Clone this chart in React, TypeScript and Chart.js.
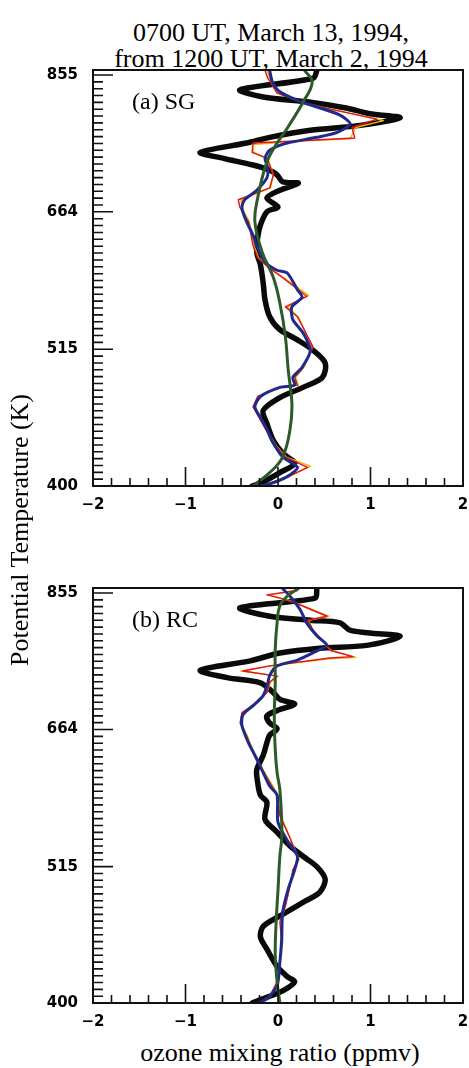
import React, { useEffect, useRef } from 'react';
import { Chart, registerables } from 'chart.js';

Chart.register(...registerables);

// ---- axis ticks ----
const thetaTicks = [400, 515, 664, 855];
const thetaMin = 400;
const thetaMax = 863;
const xMin = -2;
const xMax = 2;

// ---- panel (a) SG ----
const sgBlackTheta = [862, 850, 832, 821, 813, 804, 796, 790, 779, 772, 762, 754, 741, 733, 724, 717, 711, 702, 700, 691, 681, 670, 664, 648, 633, 616, 602, 582, 564, 547, 534, 524, 514, 502, 489, 480, 471, 460, 449, 435, 425, 417, 410, 403, 400];
const sgBlackX = [0.42, 0.38, -0.41, -0.16, 0.35, 0.75, 0.99, 1.32, 0.89, 0.35, -0.09, -0.34, -0.84, -0.59, -0.27, -0.09, -0.01, 0.05, 0.22, 0.02, -0.12, 0.0, -0.12, -0.19, -0.22, -0.23, -0.19, -0.16, -0.14, -0.09, 0.02, 0.21, 0.38, 0.51, 0.48, 0.27, 0.02, -0.16, -0.12, -0.05, 0.05, 0.18, 0.02, -0.16, -0.28];

const sgRedTheta = [862, 850, 827, 812, 804, 788, 776, 761, 758, 754, 741, 733, 711, 694, 679, 669, 652, 624, 610, 598, 588, 568, 557, 547, 517, 498, 489, 482, 480, 472, 463, 452, 441, 431, 422, 414, 407, 401, 400];
const sgRedX = [-0.14, -0.11, -0.01, 0.27, 0.53, 1.07, 0.80, 0.83, 0.35, -0.27, -0.28, -0.12, -0.05, -0.09, -0.43, -0.41, -0.32, -0.27, -0.22, -0.09, 0.05, 0.31, 0.08, 0.21, 0.38, 0.27, 0.18, 0.21, 0.02, -0.22, -0.27, -0.19, -0.11, -0.03, 0.08, 0.32, 0.11, -0.14, -0.27];

const sgYellowTheta = [862, 850, 827, 812, 803, 786, 776, 760, 757, 752, 741, 733, 711, 694, 679, 669, 652, 624, 610, 598, 588, 569, 557, 547, 517, 498, 489, 482, 480, 472, 463, 452, 441, 431, 422, 415, 407, 401, 400];
const sgYellowX = [-0.12, -0.09, 0.0, 0.28, 0.56, 1.14, 0.84, 0.78, 0.30, -0.28, -0.26, -0.11, -0.05, -0.08, -0.40, -0.39, -0.31, -0.26, -0.21, -0.08, 0.06, 0.33, 0.10, 0.22, 0.37, 0.28, 0.19, 0.22, 0.03, -0.21, -0.26, -0.18, -0.10, -0.02, 0.09, 0.35, 0.12, -0.13, -0.26];

const sgBlueTheta = [862, 844, 829, 816, 806, 794, 781, 769, 762, 754, 744, 733, 720, 707, 691, 679, 669, 652, 636, 621, 605, 596, 593, 575, 567, 557, 544, 531, 514, 498, 489, 482, 480, 472, 463, 454, 444, 433, 422, 414, 407, 401, 400];
const sgBlueX = [-0.09, -0.06, 0.02, 0.21, 0.42, 0.67, 0.78, 0.64, 0.42, 0.10, -0.09, -0.14, -0.11, -0.12, -0.23, -0.36, -0.39, -0.34, -0.27, -0.22, -0.14, -0.01, 0.10, 0.21, 0.26, 0.15, 0.16, 0.27, 0.35, 0.26, 0.16, 0.18, 0.02, -0.19, -0.25, -0.19, -0.12, -0.05, 0.05, 0.21, 0.10, -0.12, -0.27];

const sgGreenTheta = [862, 844, 813, 775, 754, 728, 681, 652, 616, 588, 561, 527, 496, 466, 444, 422, 410, 400];
const sgGreenX = [0.29, 0.37, 0.27, 0.10, -0.01, -0.12, -0.22, -0.25, -0.17, -0.05, 0.02, 0.08, 0.11, 0.15, 0.13, 0.05, -0.09, -0.27];

// ---- panel (b) RC ----
const rcBlackTheta = [862, 847, 832, 819, 813, 809, 798, 794, 789, 776, 772, 765, 754, 741, 731, 724, 711, 702, 696, 689, 681, 672, 665, 657, 648, 633, 616, 602, 588, 580, 562, 549, 535, 525, 515, 503, 491, 482, 470, 461, 452, 442, 428, 420, 416, 409, 405, 400];
const rcBlackX = [0.42, 0.40, -0.41, -0.09, 0.35, 0.67, 0.78, 0.99, 1.32, 0.96, 0.45, 0.02, -0.30, -0.84, -0.55, -0.19, -0.05, 0.02, 0.18, 0.02, -0.12, -0.09, -0.01, -0.09, -0.12, -0.16, -0.23, -0.22, -0.19, -0.12, -0.14, -0.01, 0.13, 0.27, 0.42, 0.51, 0.45, 0.27, 0.02, -0.16, -0.19, -0.12, -0.01, 0.10, 0.18, 0.05, -0.09, -0.28];

const rcRedTheta = [859, 852, 847, 840, 832, 819, 813, 798, 776, 769, 760, 758, 747, 740, 733, 725, 711, 698, 685, 672, 656, 636, 616, 602, 588, 566, 543, 522, 512, 497, 479, 465, 448, 431, 416, 405, 400];
const rcRedX = [0.21, -0.12, 0.02, 0.18, 0.31, 0.53, 0.32, 0.38, 0.53, 0.56, 0.81, 0.56, -0.09, -0.38, -0.01, -0.09, -0.12, -0.23, -0.39, -0.41, -0.34, -0.27, -0.17, -0.09, -0.01, 0.02, 0.13, 0.22, 0.16, 0.13, 0.08, 0.02, 0.04, 0.02, -0.01, -0.09, -0.22];

const rcYellowTheta = [859, 852, 847, 840, 832, 819, 813, 798, 776, 769, 759, 757, 747, 740, 733, 725, 711, 698, 685, 672, 656, 636, 616, 602, 588, 566, 543, 522, 512, 497, 479, 465, 448, 431, 416, 405, 400];
const rcYellowX = [0.19, -0.10, 0.03, 0.19, 0.32, 0.55, 0.33, 0.38, 0.52, 0.57, 0.84, 0.55, -0.07, -0.40, 0.0, -0.08, -0.12, -0.22, -0.38, -0.40, -0.33, -0.26, -0.16, -0.08, 0.0, 0.03, 0.13, 0.23, 0.17, 0.13, 0.08, 0.03, 0.05, 0.02, 0.0, -0.08, -0.21];

const rcBlueTheta = [862, 850, 829, 809, 790, 776, 768, 755, 747, 734, 724, 707, 694, 682, 669, 648, 633, 613, 598, 588, 559, 539, 525, 512, 494, 473, 450, 431, 413, 403, 400];
const rcBlueX = [0.05, 0.13, 0.24, 0.31, 0.42, 0.53, 0.42, 0.21, -0.01, -0.09, -0.11, -0.16, -0.27, -0.38, -0.39, -0.32, -0.25, -0.16, -0.09, -0.01, 0.0, 0.11, 0.21, 0.18, 0.11, 0.05, 0.04, 0.02, -0.01, -0.12, -0.22];

const rcGreenTheta = [862, 850, 835, 809, 769, 724, 681, 640, 613, 594, 559, 542, 525, 493, 465, 438, 416, 400];
const rcGreenX = [0.22, 0.10, 0.02, -0.01, -0.03, -0.03, -0.04, -0.03, -0.01, 0.02, 0.04, 0.04, 0.02, 0.0, -0.02, -0.03, -0.01, 0.02];

const colBlack = '#0a0a0a';
const colRed = '#e2121f';
const colYellow = '#f0b400';
const colBlue = '#1f2a8c';
const colGreen = '#2c5a2a';

function pts(theta: number[], xs: number[]) {
  return theta.map((t, i) => ({ x: xs[i], y: t }));
}

function zeroPadding(s: any) {
  s.paddingTop = 0;
  s.paddingBottom = 0;
  s.paddingLeft = 0;
  s.paddingRight = 0;
}

const framePlugin = {
  id: 'frameTicks',
  afterDatasetsDraw(chart: any, _args: any, opts: any) {
    const { ctx, chartArea: a } = chart;
    const x = chart.scales.x;
    const y = chart.scales.y;
    ctx.save();
    ctx.strokeStyle = '#111';
    ctx.lineWidth = 1.6;
    ctx.beginPath();
    for (let i = 0; i < thetaTicks.length; i++) {
      const v = thetaTicks[i];
      const py = y.getPixelForValue(v);
      ctx.moveTo(a.left, py);
      ctx.lineTo(a.left + 20, py);
      if (i < thetaTicks.length - 1) {
        const nxt = thetaTicks[i + 1];
        for (let k = 1; k < 20; k++) {
          const mv = v * Math.pow(nxt / v, k / 20);
          const mp = y.getPixelForValue(mv);
          ctx.moveTo(a.left, mp);
          ctx.lineTo(a.left + 10, mp);
        }
      }
    }
    for (let k = -10; k <= 10; k++) {
      const v = k / 5;
      const px = x.getPixelForValue(v);
      const len = k % 5 === 0 ? 19 : 8;
      ctx.moveTo(px, a.bottom);
      ctx.lineTo(px, a.bottom - len);
    }
    ctx.stroke();
    ctx.lineWidth = 2;
    ctx.strokeRect(a.left, a.top, a.right - a.left, a.bottom - a.top);
    ctx.fillStyle = '#000';
    ctx.font = '24px "Liberation Serif"';
    ctx.textBaseline = 'alphabetic';
    ctx.textAlign = 'left';
    ctx.fillText(opts.label, a.left + 39, a.top + 39);
    ctx.restore();
  },
};

type Series = { theta: number[]; xs: number[] };

function Panel(props: {
  top: number;
  height: number;
  axisHeight: number;
  label: string;
  black: Series;
  red: Series;
  yellow: Series;
  blue: Series;
  green: Series;
}) {
  const ref = useRef<HTMLCanvasElement>(null);
  useEffect(() => {
    const line = (s: Series, color: string, width: number, tension: number) => ({
      data: pts(s.theta, s.xs),
      showLine: true,
      borderColor: color,
      backgroundColor: color,
      borderWidth: width,
      pointRadius: 0,
      tension,
      borderJoinStyle: 'round',
      borderCapStyle: 'round',
      fill: false,
    });
    const chart = new Chart(ref.current as HTMLCanvasElement, {
      type: 'scatter',
      data: {
        datasets: [
          line(props.green, colGreen, 3, 0.4),
          line(props.blue, colBlue, 3, 0.25),
          line(props.red, colRed, 1.4, 0),
          line(props.yellow, colYellow, 1.4, 0),
          line(props.black, colBlack, 5.5, 0.3),
        ] as any,
      },
      options: {
        responsive: false,
        animation: false,
        devicePixelRatio: 1,
        layout: { padding: { top: 10, right: 6, left: 0, bottom: 0 } },
        plugins: {
          legend: { display: false },
          tooltip: { enabled: false },
          frameTicks: { label: props.label },
        } as any,
        scales: {
          x: {
            type: 'linear',
            min: xMin,
            max: xMax,
            bounds: 'data',
            grid: { display: false, drawTicks: false },
            border: { display: false },
            afterFit: (s: any) => {
              s.height = props.axisHeight;
              zeroPadding(s);
            },
            afterBuildTicks: (s: any) => {
              s.ticks = [-2, -1, 0, 1, 2].map((v) => ({ value: v }));
            },
            ticks: {
              padding: 10,
              color: '#000',
              font: { family: 'DejaVu Sans', size: 15, weight: 'bold' },
              callback: (v: any) => (Number(v) < 0 ? '\u2212' + Math.abs(Number(v)) : String(v)),
            },
          },
          y: {
            type: 'logarithmic',
            min: thetaMin,
            max: thetaMax,
            bounds: 'data',
            grid: { display: false, drawTicks: false },
            border: { display: false },
            afterFit: (s: any) => {
              s.width = 93;
              zeroPadding(s);
            },
            afterBuildTicks: (s: any) => {
              s.ticks = thetaTicks.map((v) => ({ value: v }));
            },
            ticks: {
              padding: 15,
              color: '#000',
              font: { family: 'DejaVu Sans', size: 15, weight: 'bold' },
              callback: (v: any) => String(v),
            },
          },
        } as any,
      },
      plugins: [framePlugin as any],
    });
    return () => chart.destroy();
  }, []);
  return (
    <canvas
      ref={ref}
      width={469}
      height={props.height}
      style={{ position: 'absolute', left: 0, top: props.top, width: 469, height: props.height }}
    />
  );
}

export default function App() {
  const serif = '"Liberation Serif", "Times New Roman", serif';
  return (
    <div
      style={{
        position: 'absolute',
        left: 0,
        top: 0,
        width: 469,
        height: 1068,
        background: '#fff',
        overflow: 'hidden',
        fontFamily: serif,
        color: '#000',
      }}
    >
      <div
        style={{
          position: 'absolute',
          left: 71,
          top: 20,
          width: 400,
          textAlign: 'center',
          fontSize: 26,
          lineHeight: '26px',
          whiteSpace: 'nowrap',
        }}
      >
        <div>0700 UT, March 13, 1994,</div>
        <div>from 1200 UT, March 2, 1994</div>
      </div>
      <Panel
        top={60}
        height={460}
        axisHeight={34}
        label="(a) SG"
        black={{ theta: sgBlackTheta, xs: sgBlackX }}
        red={{ theta: sgRedTheta, xs: sgRedX }}
        yellow={{ theta: sgYellowTheta, xs: sgYellowX }}
        blue={{ theta: sgBlueTheta, xs: sgBlueX }}
        green={{ theta: sgGreenTheta, xs: sgGreenX }}
      />
      <Panel
        top={578}
        height={460}
        axisHeight={35}
        label="(b) RC"
        black={{ theta: rcBlackTheta, xs: rcBlackX }}
        red={{ theta: rcRedTheta, xs: rcRedX }}
        yellow={{ theta: rcYellowTheta, xs: rcYellowX }}
        blue={{ theta: rcBlueTheta, xs: rcBlueX }}
        green={{ theta: rcGreenTheta, xs: rcGreenX }}
      />
      <div
        style={{
          position: 'absolute',
          left: 20 - 170,
          top: 530 - 13,
          width: 340,
          height: 26,
          lineHeight: '26px',
          fontSize: 26,
          textAlign: 'center',
          whiteSpace: 'nowrap',
          transform: 'rotate(-90deg)',
          transformOrigin: '50% 50%',
        }}
      >
        Potential Temperature (K)
      </div>
      <div
        style={{
          position: 'absolute',
          left: 80,
          top: 1040,
          width: 400,
          textAlign: 'center',
          fontSize: 26,
          lineHeight: '26px',
          whiteSpace: 'nowrap',
        }}
      >
        ozone mixing ratio (ppmv)
      </div>
    </div>
  );
}
